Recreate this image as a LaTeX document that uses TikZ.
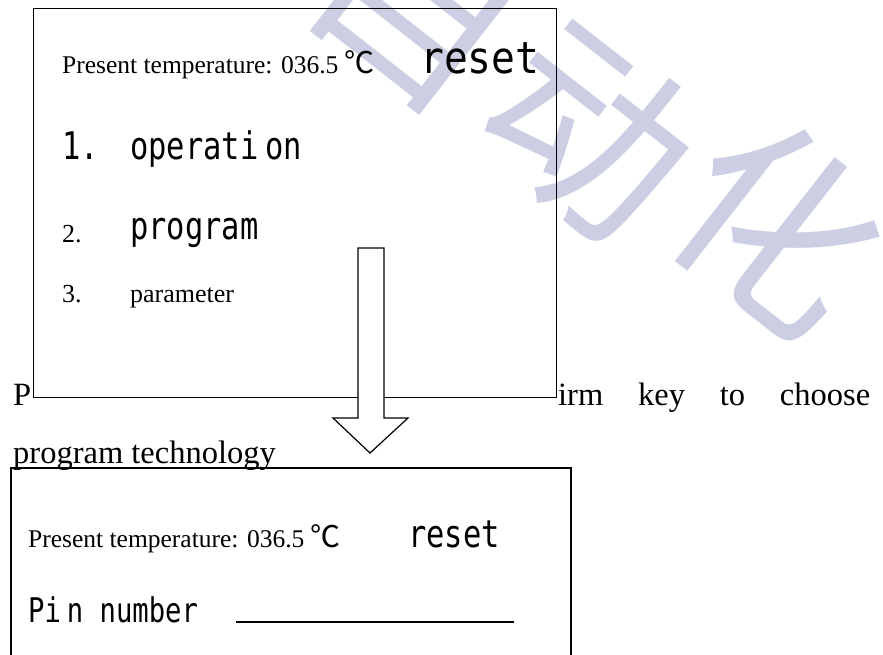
\documentclass[tikz,border=0pt]{standalone}
\usepackage{fontspec}
\setmainfont{Liberation Serif}
\newfontfamily\monof[FakeStretch=0.8]{DejaVu Sans Mono}
\newfontfamily\monow[FakeStretch=0.9]{DejaVu Sans Mono}
\newfontfamily\cjk{Noto Sans CJK SC}
\definecolor{wm}{RGB}{204,206,228}
\newcommand{\degc}{\hspace{6pt}{\cjk\fontsize{30}{30}\selectfont ℃}}
\begin{document}
\begin{tikzpicture}[x=1pt,y=-1pt,
  serif/.style={anchor=base west,inner sep=0pt,font=\fontsize{25.5}{26}\selectfont},
  small/.style={anchor=base west,inner sep=0pt,font=\fontsize{26}{26}\selectfont},
  mono/.style={anchor=base west,inner sep=0pt,font=\monof\fontsize{38}{38}\selectfont},
  pinmono/.style={anchor=base west,inner sep=0pt,font=\monof\fontsize{34}{34}\selectfont},
  bigmono/.style={anchor=base west,inner sep=0pt,font=\monow\fontsize{44}{44}\selectfont},
  bg/.style={anchor=base west,inner sep=0pt,font=\fontsize{32.5}{33}\selectfont},
  wmark/.style={inner sep=0pt,text=wm,rotate=-38,font=\cjk\fontsize{200}{200}\selectfont},
  frame/.style={draw=black,line width=1.4pt},
  blockarrow/.style={draw=black,fill=white,line width=1.2pt,line join=miter}]
\useasboundingbox (0,0) rectangle (883,655);
% background paragraph text
\node[bg] (bgP) at (13,405) {P};
\node[bg] (bgirm) at (558,405) {\makebox[312pt][s]{irm key to choose}};
\node[bg] (bgprog) at (13,463) {program technology};
% top box fill
\fill[white] (33,8) rectangle (556,397);
% watermark
\node[wmark] (w1) at (420,0) {自};
\node[wmark] (w2) at (590,130) {动};
\node[wmark] (w3) at (778,225) {化};
% top box
\node[frame,minimum width=523pt,minimum height=389pt,anchor=north west,inner sep=0pt] (top) at (33,8) {};
\node[serif] (t1) at (62,74) {Present temperature: 036.5\degc};
\node[bigmono] (t1r) at (420,74) {reset};
\node[mono] (n1) at (62,160) {1.};
\node[mono] (op) at (130,160) {operati\hspace{7pt}on};
\node[small] (n2) at (62,242) {2.};
\node[mono] (pg) at (130,240) {program};
\node[small] (n3) at (62,302) {3.};
\node[small] (pa) at (130,302) {parameter};
% block arrow
\coordinate (a1) at (358,248);
\coordinate (a2) at (384,248);
\coordinate (a3) at (384,418);
\coordinate (a4) at (408,418);
\coordinate (tip) at (370,453);
\coordinate (a6) at (333,418);
\coordinate (a7) at (358,418);
\draw[blockarrow] (a1) -- (a2) -- (a3) -- (a4) -- (tip) -- (a6) -- (a7) -- cycle;
% bottom box
\coordinate (b1) at (11,660);
\coordinate (b2) at (11,468);
\coordinate (b3) at (571,468);
\coordinate (b4) at (571,660);
\draw[frame] (b1) -- (b2) -- (b3) -- (b4);
\node[serif] (t2) at (28,547) {Present temperature: 036.5\degc};
\node[mono] (t2r) at (408,547) {reset};
\node[pinmono] (pin) at (28,622) {Pi\hspace{6pt}n number};
\coordinate (u1) at (236,622);
\coordinate (u2) at (514,622);
\draw[line width=1.2pt] (u1) -- (u2);
\end{tikzpicture}
\end{document}
